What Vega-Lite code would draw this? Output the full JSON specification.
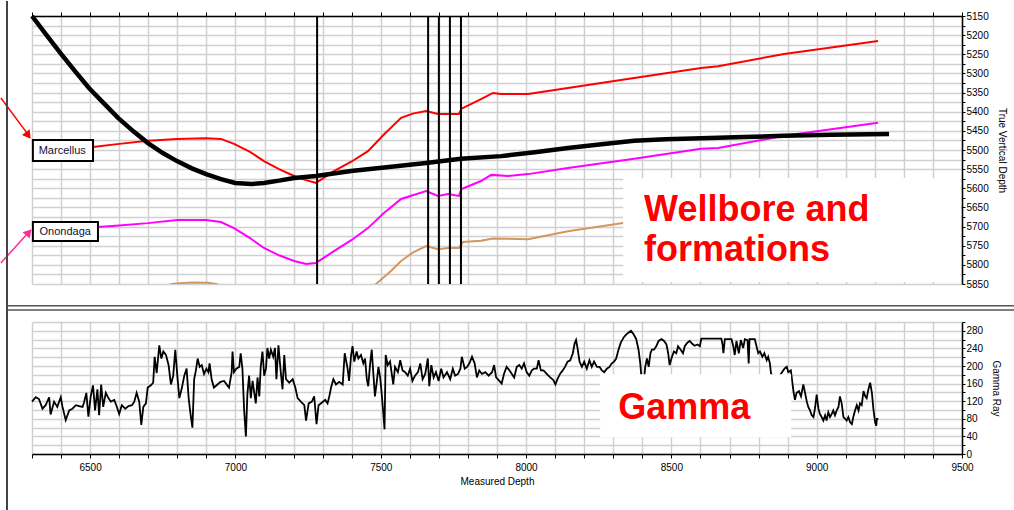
{
  "$schema": "https://vega.github.io/schema/vega-lite/v6.json",
  "autosize": {"type": "pad"},
  "padding": 0,
  "background": "white",
  "config": {
    "font": "Liberation Sans",
    "view": {"stroke": null},
    "axis": {
      "gridColor": "#d0d0d0",
      "gridWidth": 1.5,
      "domainColor": "black",
      "domainWidth": 1.5,
      "tickColor": "black",
      "tickSize": 4,
      "labelColor": "black",
      "titleColor": "black",
      "labelFontSize": 10,
      "titleFontSize": 10,
      "titleFontWeight": "normal",
      "labelOverlap": false,
      "labelFlush": false
    }
  },
  "datasets": {
    "wellbore": [
      {"md": 6300, "tvd": 5150}, {"md": 6350, "tvd": 5200}, {"md": 6400, "tvd": 5249}, {"md": 6450, "tvd": 5296},
      {"md": 6496, "tvd": 5338}, {"md": 6550, "tvd": 5380}, {"md": 6596, "tvd": 5416}, {"md": 6650, "tvd": 5452},
      {"md": 6699, "tvd": 5482}, {"md": 6750, "tvd": 5508}, {"md": 6799, "tvd": 5529}, {"md": 6850, "tvd": 5548},
      {"md": 6899, "tvd": 5563}, {"md": 6950, "tvd": 5576}, {"md": 6999, "tvd": 5586}, {"md": 7054, "tvd": 5589},
      {"md": 7098, "tvd": 5586}, {"md": 7150, "tvd": 5580}, {"md": 7202, "tvd": 5573}, {"md": 7277, "tvd": 5568},
      {"md": 7398, "tvd": 5555}, {"md": 7520, "tvd": 5545}, {"md": 7656, "tvd": 5534}, {"md": 7776, "tvd": 5523},
      {"md": 7914, "tvd": 5516}, {"md": 8030, "tvd": 5506}, {"md": 8144, "tvd": 5495}, {"md": 8260, "tvd": 5485},
      {"md": 8372, "tvd": 5476}, {"md": 8480, "tvd": 5472}, {"md": 8602, "tvd": 5469}, {"md": 8750, "tvd": 5466},
      {"md": 8888, "tvd": 5463}, {"md": 9050, "tvd": 5460}, {"md": 9249, "tvd": 5458}
    ],
    "formations": [
      {"name": "Marcellus", "md": 6300, "tvd": 5503}, {"name": "Marcellus", "md": 6400, "tvd": 5497},
      {"name": "Marcellus", "md": 6510, "tvd": 5492}, {"name": "Marcellus", "md": 6600, "tvd": 5484},
      {"name": "Marcellus", "md": 6699, "tvd": 5476}, {"name": "Marcellus", "md": 6799, "tvd": 5471},
      {"name": "Marcellus", "md": 6899, "tvd": 5469}, {"name": "Marcellus", "md": 6950, "tvd": 5471},
      {"name": "Marcellus", "md": 6995, "tvd": 5484}, {"name": "Marcellus", "md": 7050, "tvd": 5505},
      {"name": "Marcellus", "md": 7098, "tvd": 5529}, {"name": "Marcellus", "md": 7150, "tvd": 5550},
      {"name": "Marcellus", "md": 7202, "tvd": 5568}, {"name": "Marcellus", "md": 7240, "tvd": 5578},
      {"name": "Marcellus", "md": 7277, "tvd": 5586}, {"name": "Marcellus", "md": 7300, "tvd": 5575},
      {"name": "Marcellus", "md": 7339, "tvd": 5555}, {"name": "Marcellus", "md": 7400, "tvd": 5530},
      {"name": "Marcellus", "md": 7456, "tvd": 5503}, {"name": "Marcellus", "md": 7510, "tvd": 5460},
      {"name": "Marcellus", "md": 7570, "tvd": 5416}, {"name": "Marcellus", "md": 7610, "tvd": 5405},
      {"name": "Marcellus", "md": 7656, "tvd": 5398}, {"name": "Marcellus", "md": 7697, "tvd": 5406},
      {"name": "Marcellus", "md": 7732, "tvd": 5406}, {"name": "Marcellus", "md": 7769, "tvd": 5406},
      {"name": "Marcellus", "md": 7778, "tvd": 5392}, {"name": "Marcellus", "md": 7845, "tvd": 5367},
      {"name": "Marcellus", "md": 7886, "tvd": 5351}, {"name": "Marcellus", "md": 7914, "tvd": 5354},
      {"name": "Marcellus", "md": 8007, "tvd": 5354}, {"name": "Marcellus", "md": 8144, "tvd": 5338},
      {"name": "Marcellus", "md": 8372, "tvd": 5312}, {"name": "Marcellus", "md": 8602, "tvd": 5286},
      {"name": "Marcellus", "md": 8661, "tvd": 5281}, {"name": "Marcellus", "md": 8888, "tvd": 5249},
      {"name": "Marcellus", "md": 9050, "tvd": 5232}, {"name": "Marcellus", "md": 9211, "tvd": 5215},
      {"name": "Onondaga", "md": 6300, "tvd": 5706}, {"name": "Onondaga", "md": 6400, "tvd": 5704},
      {"name": "Onondaga", "md": 6527, "tvd": 5701}, {"name": "Onondaga", "md": 6600, "tvd": 5697},
      {"name": "Onondaga", "md": 6699, "tvd": 5691}, {"name": "Onondaga", "md": 6799, "tvd": 5683},
      {"name": "Onondaga", "md": 6899, "tvd": 5683}, {"name": "Onondaga", "md": 6950, "tvd": 5688},
      {"name": "Onondaga", "md": 6995, "tvd": 5704}, {"name": "Onondaga", "md": 7050, "tvd": 5730},
      {"name": "Onondaga", "md": 7098, "tvd": 5756}, {"name": "Onondaga", "md": 7150, "tvd": 5775},
      {"name": "Onondaga", "md": 7202, "tvd": 5790}, {"name": "Onondaga", "md": 7243, "tvd": 5798},
      {"name": "Onondaga", "md": 7277, "tvd": 5795}, {"name": "Onondaga", "md": 7339, "tvd": 5764},
      {"name": "Onondaga", "md": 7400, "tvd": 5735}, {"name": "Onondaga", "md": 7456, "tvd": 5704},
      {"name": "Onondaga", "md": 7510, "tvd": 5665}, {"name": "Onondaga", "md": 7570, "tvd": 5628},
      {"name": "Onondaga", "md": 7656, "tvd": 5607}, {"name": "Onondaga", "md": 7697, "tvd": 5620},
      {"name": "Onondaga", "md": 7732, "tvd": 5615}, {"name": "Onondaga", "md": 7769, "tvd": 5620},
      {"name": "Onondaga", "md": 7778, "tvd": 5602}, {"name": "Onondaga", "md": 7845, "tvd": 5581},
      {"name": "Onondaga", "md": 7880, "tvd": 5565}, {"name": "Onondaga", "md": 7938, "tvd": 5568},
      {"name": "Onondaga", "md": 8007, "tvd": 5563}, {"name": "Onondaga", "md": 8144, "tvd": 5547},
      {"name": "Onondaga", "md": 8372, "tvd": 5523}, {"name": "Onondaga", "md": 8602, "tvd": 5497},
      {"name": "Onondaga", "md": 8661, "tvd": 5495}, {"name": "Onondaga", "md": 8888, "tvd": 5463},
      {"name": "Onondaga", "md": 9050, "tvd": 5446}, {"name": "Onondaga", "md": 9211, "tvd": 5429},
      {"name": "Lower", "md": 6700, "tvd": 5870}, {"name": "Lower", "md": 6760, "tvd": 5855},
      {"name": "Lower", "md": 6785, "tvd": 5849}, {"name": "Lower", "md": 6850, "tvd": 5846},
      {"name": "Lower", "md": 6906, "tvd": 5847}, {"name": "Lower", "md": 6933, "tvd": 5850},
      {"name": "Lower", "md": 6980, "tvd": 5862}, {"name": "Lower", "md": 7050, "tvd": 5890},
      {"name": "Lower", "md": 7150, "tvd": 5935}, {"name": "Lower", "md": 7243, "tvd": 5958},
      {"name": "Lower", "md": 7300, "tvd": 5950}, {"name": "Lower", "md": 7400, "tvd": 5900},
      {"name": "Lower", "md": 7460, "tvd": 5862}, {"name": "Lower", "md": 7484, "tvd": 5850},
      {"name": "Lower", "md": 7535, "tvd": 5816}, {"name": "Lower", "md": 7570, "tvd": 5790},
      {"name": "Lower", "md": 7610, "tvd": 5768}, {"name": "Lower", "md": 7656, "tvd": 5751},
      {"name": "Lower", "md": 7697, "tvd": 5759}, {"name": "Lower", "md": 7732, "tvd": 5756},
      {"name": "Lower", "md": 7769, "tvd": 5756}, {"name": "Lower", "md": 7783, "tvd": 5740},
      {"name": "Lower", "md": 7845, "tvd": 5737}, {"name": "Lower", "md": 7886, "tvd": 5731},
      {"name": "Lower", "md": 8007, "tvd": 5733}, {"name": "Lower", "md": 8144, "tvd": 5712},
      {"name": "Lower", "md": 8340, "tvd": 5690}
    ],
    "markers": [{"md": 7281}, {"md": 7663}, {"md": 7700}, {"md": 7738}, {"md": 7776}],
    "gamma": [
      {"md": 6300, "gr": 119}, {"md": 6313, "gr": 129}, {"md": 6324, "gr": 125}, {"md": 6336, "gr": 103},
      {"md": 6347, "gr": 111}, {"md": 6359, "gr": 129}, {"md": 6364, "gr": 90}, {"md": 6376, "gr": 119},
      {"md": 6387, "gr": 107}, {"md": 6399, "gr": 129}, {"md": 6405, "gr": 107}, {"md": 6416, "gr": 77},
      {"md": 6428, "gr": 99}, {"md": 6439, "gr": 103}, {"md": 6451, "gr": 111}, {"md": 6462, "gr": 109},
      {"md": 6474, "gr": 107}, {"md": 6479, "gr": 117}, {"md": 6487, "gr": 139}, {"md": 6494, "gr": 85},
      {"md": 6502, "gr": 131}, {"md": 6510, "gr": 156}, {"md": 6517, "gr": 99}, {"md": 6525, "gr": 147},
      {"md": 6531, "gr": 88}, {"md": 6538, "gr": 158}, {"md": 6545, "gr": 107}, {"md": 6554, "gr": 139},
      {"md": 6563, "gr": 127}, {"md": 6571, "gr": 119}, {"md": 6583, "gr": 123}, {"md": 6591, "gr": 109},
      {"md": 6600, "gr": 91}, {"md": 6609, "gr": 111}, {"md": 6621, "gr": 103}, {"md": 6632, "gr": 109},
      {"md": 6644, "gr": 111}, {"md": 6652, "gr": 119}, {"md": 6660, "gr": 139}, {"md": 6669, "gr": 119},
      {"md": 6676, "gr": 66}, {"md": 6683, "gr": 107}, {"md": 6692, "gr": 115}, {"md": 6698, "gr": 151},
      {"md": 6709, "gr": 156}, {"md": 6717, "gr": 162}, {"md": 6722, "gr": 221}, {"md": 6729, "gr": 184},
      {"md": 6738, "gr": 247}, {"md": 6745, "gr": 217}, {"md": 6752, "gr": 233}, {"md": 6761, "gr": 225},
      {"md": 6770, "gr": 202}, {"md": 6778, "gr": 158}, {"md": 6786, "gr": 178}, {"md": 6793, "gr": 237},
      {"md": 6801, "gr": 170}, {"md": 6807, "gr": 127}, {"md": 6816, "gr": 151}, {"md": 6824, "gr": 178},
      {"md": 6832, "gr": 194}, {"md": 6839, "gr": 127}, {"md": 6846, "gr": 88}, {"md": 6852, "gr": 60},
      {"md": 6858, "gr": 170}, {"md": 6864, "gr": 190}, {"md": 6870, "gr": 217}, {"md": 6877, "gr": 198},
      {"md": 6884, "gr": 202}, {"md": 6892, "gr": 182}, {"md": 6900, "gr": 194}, {"md": 6907, "gr": 186},
      {"md": 6911, "gr": 206}, {"md": 6918, "gr": 170}, {"md": 6926, "gr": 151}, {"md": 6938, "gr": 158},
      {"md": 6949, "gr": 164}, {"md": 6961, "gr": 166}, {"md": 6972, "gr": 156}, {"md": 6978, "gr": 151},
      {"md": 6987, "gr": 186}, {"md": 6990, "gr": 233}, {"md": 6995, "gr": 186}, {"md": 7003, "gr": 194},
      {"md": 7013, "gr": 198}, {"md": 7018, "gr": 229}, {"md": 7024, "gr": 194}, {"md": 7030, "gr": 99},
      {"md": 7036, "gr": 40}, {"md": 7041, "gr": 135}, {"md": 7047, "gr": 178}, {"md": 7053, "gr": 127},
      {"md": 7059, "gr": 166}, {"md": 7064, "gr": 143}, {"md": 7070, "gr": 115}, {"md": 7076, "gr": 174},
      {"md": 7082, "gr": 131}, {"md": 7087, "gr": 198}, {"md": 7093, "gr": 233}, {"md": 7099, "gr": 178},
      {"md": 7105, "gr": 194}, {"md": 7110, "gr": 241}, {"md": 7116, "gr": 217}, {"md": 7122, "gr": 237},
      {"md": 7130, "gr": 221}, {"md": 7136, "gr": 241}, {"md": 7141, "gr": 170}, {"md": 7148, "gr": 247},
      {"md": 7156, "gr": 186}, {"md": 7162, "gr": 147}, {"md": 7168, "gr": 225}, {"md": 7174, "gr": 170},
      {"md": 7185, "gr": 162}, {"md": 7197, "gr": 170}, {"md": 7206, "gr": 151}, {"md": 7214, "gr": 127},
      {"md": 7225, "gr": 119}, {"md": 7237, "gr": 111}, {"md": 7243, "gr": 76}, {"md": 7252, "gr": 115},
      {"md": 7263, "gr": 119}, {"md": 7271, "gr": 131}, {"md": 7279, "gr": 68}, {"md": 7286, "gr": 111},
      {"md": 7298, "gr": 117}, {"md": 7309, "gr": 123}, {"md": 7317, "gr": 115}, {"md": 7323, "gr": 131},
      {"md": 7329, "gr": 151}, {"md": 7337, "gr": 170}, {"md": 7346, "gr": 158}, {"md": 7357, "gr": 164},
      {"md": 7369, "gr": 158}, {"md": 7376, "gr": 229}, {"md": 7386, "gr": 194}, {"md": 7391, "gr": 166},
      {"md": 7398, "gr": 225}, {"md": 7403, "gr": 245}, {"md": 7409, "gr": 210}, {"md": 7417, "gr": 233},
      {"md": 7423, "gr": 217}, {"md": 7432, "gr": 225}, {"md": 7440, "gr": 206}, {"md": 7446, "gr": 217},
      {"md": 7452, "gr": 170}, {"md": 7457, "gr": 154}, {"md": 7463, "gr": 202}, {"md": 7469, "gr": 237},
      {"md": 7475, "gr": 178}, {"md": 7480, "gr": 131}, {"md": 7486, "gr": 162}, {"md": 7492, "gr": 198},
      {"md": 7498, "gr": 174}, {"md": 7503, "gr": 139}, {"md": 7509, "gr": 91}, {"md": 7513, "gr": 56},
      {"md": 7517, "gr": 225}, {"md": 7524, "gr": 202}, {"md": 7532, "gr": 210}, {"md": 7537, "gr": 186},
      {"md": 7543, "gr": 158}, {"md": 7549, "gr": 198}, {"md": 7559, "gr": 186}, {"md": 7567, "gr": 213},
      {"md": 7575, "gr": 190}, {"md": 7584, "gr": 186}, {"md": 7593, "gr": 178}, {"md": 7601, "gr": 194},
      {"md": 7609, "gr": 166}, {"md": 7618, "gr": 178}, {"md": 7628, "gr": 186}, {"md": 7636, "gr": 206},
      {"md": 7644, "gr": 170}, {"md": 7653, "gr": 182}, {"md": 7662, "gr": 217}, {"md": 7667, "gr": 154},
      {"md": 7674, "gr": 202}, {"md": 7682, "gr": 174}, {"md": 7690, "gr": 186}, {"md": 7699, "gr": 166},
      {"md": 7708, "gr": 194}, {"md": 7716, "gr": 174}, {"md": 7728, "gr": 186}, {"md": 7739, "gr": 170},
      {"md": 7748, "gr": 194}, {"md": 7756, "gr": 178}, {"md": 7766, "gr": 182}, {"md": 7774, "gr": 194},
      {"md": 7779, "gr": 221}, {"md": 7789, "gr": 194}, {"md": 7797, "gr": 198}, {"md": 7805, "gr": 206},
      {"md": 7814, "gr": 221}, {"md": 7823, "gr": 206}, {"md": 7831, "gr": 174}, {"md": 7839, "gr": 190},
      {"md": 7848, "gr": 182}, {"md": 7860, "gr": 186}, {"md": 7871, "gr": 178}, {"md": 7883, "gr": 186},
      {"md": 7890, "gr": 202}, {"md": 7897, "gr": 174}, {"md": 7908, "gr": 166}, {"md": 7916, "gr": 160},
      {"md": 7924, "gr": 182}, {"md": 7933, "gr": 198}, {"md": 7943, "gr": 190}, {"md": 7951, "gr": 182},
      {"md": 7959, "gr": 174}, {"md": 7968, "gr": 198}, {"md": 7977, "gr": 202}, {"md": 7985, "gr": 194},
      {"md": 7993, "gr": 206}, {"md": 8002, "gr": 186}, {"md": 8011, "gr": 178}, {"md": 8020, "gr": 190},
      {"md": 8028, "gr": 194}, {"md": 8037, "gr": 194}, {"md": 8043, "gr": 213}, {"md": 8051, "gr": 190},
      {"md": 8060, "gr": 190}, {"md": 8071, "gr": 182}, {"md": 8083, "gr": 174}, {"md": 8094, "gr": 168},
      {"md": 8101, "gr": 158}, {"md": 8108, "gr": 170}, {"md": 8117, "gr": 182}, {"md": 8126, "gr": 190},
      {"md": 8134, "gr": 198}, {"md": 8143, "gr": 210}, {"md": 8152, "gr": 213}, {"md": 8161, "gr": 229},
      {"md": 8167, "gr": 251}, {"md": 8172, "gr": 259}, {"md": 8177, "gr": 241}, {"md": 8184, "gr": 210},
      {"md": 8192, "gr": 198}, {"md": 8200, "gr": 210}, {"md": 8209, "gr": 194}, {"md": 8218, "gr": 213},
      {"md": 8226, "gr": 198}, {"md": 8234, "gr": 210}, {"md": 8244, "gr": 198}, {"md": 8253, "gr": 198},
      {"md": 8261, "gr": 190}, {"md": 8269, "gr": 186}, {"md": 8278, "gr": 194}, {"md": 8287, "gr": 198},
      {"md": 8295, "gr": 206}, {"md": 8303, "gr": 210}, {"md": 8310, "gr": 217}, {"md": 8318, "gr": 237},
      {"md": 8326, "gr": 253}, {"md": 8336, "gr": 265}, {"md": 8345, "gr": 272}, {"md": 8353, "gr": 276},
      {"md": 8361, "gr": 280}, {"md": 8370, "gr": 272}, {"md": 8379, "gr": 261}, {"md": 8387, "gr": 237},
      {"md": 8393, "gr": 206}, {"md": 8397, "gr": 174}, {"md": 8403, "gr": 150}, {"md": 8410, "gr": 198},
      {"md": 8416, "gr": 217}, {"md": 8422, "gr": 198}, {"md": 8428, "gr": 229}, {"md": 8433, "gr": 237},
      {"md": 8440, "gr": 237}, {"md": 8448, "gr": 245}, {"md": 8456, "gr": 257}, {"md": 8466, "gr": 261},
      {"md": 8475, "gr": 257}, {"md": 8483, "gr": 249}, {"md": 8489, "gr": 229}, {"md": 8494, "gr": 202},
      {"md": 8502, "gr": 221}, {"md": 8509, "gr": 233}, {"md": 8517, "gr": 229}, {"md": 8523, "gr": 245},
      {"md": 8532, "gr": 237}, {"md": 8540, "gr": 229}, {"md": 8546, "gr": 245}, {"md": 8555, "gr": 253},
      {"md": 8563, "gr": 257}, {"md": 8571, "gr": 251}, {"md": 8580, "gr": 246}, {"md": 8590, "gr": 249},
      {"md": 8598, "gr": 245}, {"md": 8603, "gr": 262}, {"md": 8626, "gr": 262}, {"md": 8649, "gr": 262},
      {"md": 8672, "gr": 262}, {"md": 8676, "gr": 249}, {"md": 8679, "gr": 229}, {"md": 8684, "gr": 261},
      {"md": 8707, "gr": 261}, {"md": 8713, "gr": 245}, {"md": 8718, "gr": 225}, {"md": 8724, "gr": 257},
      {"md": 8732, "gr": 229}, {"md": 8739, "gr": 259}, {"md": 8747, "gr": 241}, {"md": 8753, "gr": 261},
      {"md": 8762, "gr": 259}, {"md": 8766, "gr": 206}, {"md": 8769, "gr": 261}, {"md": 8787, "gr": 261},
      {"md": 8793, "gr": 245}, {"md": 8799, "gr": 229}, {"md": 8805, "gr": 233}, {"md": 8813, "gr": 221},
      {"md": 8820, "gr": 229}, {"md": 8828, "gr": 213}, {"md": 8833, "gr": 221}, {"md": 8839, "gr": 206},
      {"md": 8843, "gr": 182}, {"md": 8860, "gr": 170}, {"md": 8875, "gr": 180}, {"md": 8889, "gr": 194},
      {"md": 8897, "gr": 198}, {"md": 8902, "gr": 186}, {"md": 8911, "gr": 190}, {"md": 8920, "gr": 143},
      {"md": 8925, "gr": 123}, {"md": 8931, "gr": 139}, {"md": 8939, "gr": 143}, {"md": 8946, "gr": 131},
      {"md": 8954, "gr": 158}, {"md": 8960, "gr": 139}, {"md": 8966, "gr": 119}, {"md": 8971, "gr": 107},
      {"md": 8977, "gr": 99}, {"md": 8983, "gr": 88}, {"md": 8989, "gr": 84}, {"md": 8994, "gr": 103},
      {"md": 9000, "gr": 135}, {"md": 9006, "gr": 103}, {"md": 9011, "gr": 91}, {"md": 9017, "gr": 84},
      {"md": 9023, "gr": 76}, {"md": 9029, "gr": 88}, {"md": 9034, "gr": 76}, {"md": 9040, "gr": 95},
      {"md": 9046, "gr": 84}, {"md": 9052, "gr": 91}, {"md": 9057, "gr": 99}, {"md": 9063, "gr": 88},
      {"md": 9069, "gr": 99}, {"md": 9075, "gr": 107}, {"md": 9080, "gr": 131}, {"md": 9086, "gr": 115},
      {"md": 9092, "gr": 84}, {"md": 9098, "gr": 80}, {"md": 9103, "gr": 76}, {"md": 9109, "gr": 84},
      {"md": 9115, "gr": 72}, {"md": 9121, "gr": 68}, {"md": 9126, "gr": 84}, {"md": 9132, "gr": 99},
      {"md": 9138, "gr": 111}, {"md": 9144, "gr": 99}, {"md": 9149, "gr": 115}, {"md": 9155, "gr": 111},
      {"md": 9161, "gr": 143}, {"md": 9167, "gr": 131}, {"md": 9172, "gr": 127}, {"md": 9178, "gr": 147},
      {"md": 9184, "gr": 162}, {"md": 9190, "gr": 139}, {"md": 9195, "gr": 103}, {"md": 9201, "gr": 72},
      {"md": 9205, "gr": 64}, {"md": 9207, "gr": 80}, {"md": 9212, "gr": 80}
    ]
  },
  "bounds": "flush",
  "spacing": 38,
  "resolve": {"scale": {"x": "independent", "y": "independent"}},
  "vconcat": [
    {
      "width": 930,
      "height": 268,
      "resolve": {"axis": {"x": "independent", "y": "independent"}},
      "layer": [
        {
          "data": {"name": "formations"},
          "mark": {"type": "line", "clip": true},
          "encoding": {
            "x": {
              "field": "md", "type": "quantitative",
              "scale": {"domain": [6300, 9500], "nice": false, "zero": false},
              "axis": {
                "orient": "top", "title": null, "labels": false, "grid": true,
                "values": [6300,6400,6500,6600,6700,6800,6900,7000,7100,7200,7300,7400,7500,7600,7700,7800,7900,8000,8100,8200,8300,8400,8500,8600,8700,8800,8900,9000,9100,9200,9300,9400,9500]
              }
            },
            "y": {
              "field": "tvd", "type": "quantitative",
              "scale": {"domain": [5150, 5850], "reverse": true, "nice": false, "zero": false},
              "axis": {
                "orient": "right", "title": "True Vertical Depth", "grid": true, "format": "d",
                "tickSize": 3, "labelPadding": 1, "titlePadding": 8,
                "values": [5150,5175,5200,5225,5250,5275,5300,5325,5350,5375,5400,5425,5450,5475,5500,5525,5550,5575,5600,5625,5650,5675,5700,5725,5750,5775,5800,5825,5850],
                "labelExpr": "datum.value % 50 === 0 ? datum.label : ''"
              }
            },
            "color": {
              "field": "name", "type": "nominal", "legend": null,
              "scale": {"domain": ["Marcellus", "Onondaga", "Lower"], "range": ["#ff0000", "#ff00ff", "#d4965e"]}
            },
            "strokeWidth": {
              "field": "name", "type": "nominal", "legend": null,
              "scale": {"domain": ["Marcellus", "Onondaga", "Lower"], "range": [2, 2, 1]}
            }
          }
        },
        {
          "data": {"name": "wellbore"},
          "mark": {"type": "line", "color": "black", "strokeWidth": 4.5},
          "encoding": {
            "x": {"field": "md", "type": "quantitative", "axis": null},
            "y": {"field": "tvd", "type": "quantitative", "axis": null}
          }
        },
        {
          "data": {"name": "markers"},
          "mark": {"type": "rule", "color": "black", "strokeWidth": 2},
          "encoding": {
            "x": {"field": "md", "type": "quantitative", "axis": null}
          }
        },
        {
          "data": {"values": [{}]},
          "mark": {"type": "rect", "fill": "white", "stroke": "black", "strokeWidth": 2},
          "encoding": {
            "x": {"datum": 6303, "type": "quantitative", "axis": null},
            "x2": {"datum": 6510},
            "y": {"datum": 5474, "type": "quantitative", "axis": null},
            "y2": {"datum": 5529}
          }
        },
        {
          "data": {"values": [{}]},
          "mark": {"type": "rect", "fill": "white", "stroke": "black", "strokeWidth": 2},
          "encoding": {
            "x": {"datum": 6303, "type": "quantitative", "axis": null},
            "x2": {"datum": 6527},
            "y": {"datum": 5688, "type": "quantitative", "axis": null},
            "y2": {"datum": 5738}
          }
        },
        {
          "data": {"values": [{}]},
          "mark": {"type": "text", "align": "left", "baseline": "middle", "fontSize": 11, "color": "#111133"},
          "encoding": {
            "x": {"datum": 6323, "type": "quantitative", "axis": null},
            "y": {"datum": 5502, "type": "quantitative", "axis": null},
            "text": {"value": "Marcellus"}
          }
        },
        {
          "data": {"values": [{}]},
          "mark": {"type": "text", "align": "left", "baseline": "middle", "fontSize": 11, "color": "#111133"},
          "encoding": {
            "x": {"datum": 6326, "type": "quantitative", "axis": null},
            "y": {"datum": 5713, "type": "quantitative", "axis": null},
            "text": {"value": "Onondaga"}
          }
        },
        {
          "data": {"values": [{}]},
          "mark": {"type": "rule", "color": "#ff0000", "strokeWidth": 1.5},
          "encoding": {
            "x": {"datum": 6193, "type": "quantitative", "axis": null},
            "x2": {"datum": 6283},
            "y": {"datum": 5364, "type": "quantitative", "axis": null},
            "y2": {"datum": 5456}
          }
        },
        {
          "data": {"values": [{}]},
          "mark": {"type": "point", "shape": "triangle-up", "filled": true, "color": "#ff0000", "opacity": 1, "size": 90, "angle": 144},
          "encoding": {
            "x": {"datum": 6287, "type": "quantitative", "axis": null},
            "y": {"datum": 5462, "type": "quantitative", "axis": null}
          }
        },
        {
          "data": {"values": [{}]},
          "mark": {"type": "rule", "color": "#ff2d95", "strokeWidth": 1.5},
          "encoding": {
            "x": {"datum": 6193, "type": "quantitative", "axis": null},
            "x2": {"datum": 6280},
            "y": {"datum": 5795, "type": "quantitative", "axis": null},
            "y2": {"datum": 5722}
          }
        },
        {
          "data": {"values": [{}]},
          "mark": {"type": "point", "shape": "triangle-up", "filled": true, "color": "#ff2d95", "opacity": 1, "size": 90, "angle": 42},
          "encoding": {
            "x": {"datum": 6289, "type": "quantitative", "axis": null},
            "y": {"datum": 5715, "type": "quantitative", "axis": null}
          }
        },
        {
          "data": {"values": [{}]},
          "mark": {"type": "rect", "fill": "white"},
          "encoding": {
            "x": {"datum": 8334, "type": "quantitative", "axis": null},
            "x2": {"datum": 9496},
            "y": {"datum": 5573, "type": "quantitative", "axis": null},
            "y2": {"datum": 5845}
          }
        },
        {
          "data": {"values": [{}]},
          "mark": {"type": "text", "align": "left", "baseline": "alphabetic", "fontSize": 36, "fontWeight": "bold", "color": "#ff0000", "lineHeight": 40},
          "encoding": {
            "x": {"datum": 8406, "type": "quantitative", "axis": null},
            "y": {"datum": 5685, "type": "quantitative", "axis": null},
            "text": {"value": ["Wellbore and", "formations"]}
          }
        },
        {
          "data": {"values": [{}]},
          "mark": {"type": "rule", "color": "#444444", "strokeWidth": 2},
          "encoding": {
            "x": {"datum": 6214, "type": "quantitative", "axis": null},
            "y": {"datum": 5111, "type": "quantitative", "axis": null},
            "y2": {"datum": 5918}
          }
        },
        {
          "data": {"values": [{}]},
          "mark": {"type": "rule", "color": "#555555", "strokeWidth": 1.5},
          "encoding": {
            "x": {"datum": 6214, "type": "quantitative", "axis": null},
            "x2": {"datum": 9682},
            "y": {"datum": 5907, "type": "quantitative", "axis": null}
          }
        },
        {
          "data": {"values": [{}]},
          "mark": {"type": "rule", "color": "#555555", "strokeWidth": 1.5},
          "encoding": {
            "x": {"datum": 6214, "type": "quantitative", "axis": null},
            "x2": {"datum": 9682},
            "y": {"datum": 5918, "type": "quantitative", "axis": null}
          }
        }
      ]
    },
    {
      "width": 930,
      "height": 132,
      "resolve": {"axis": {"x": "independent", "y": "independent"}},
      "layer": [
        {
          "data": {"name": "gamma"},
          "mark": {"type": "line", "color": "black", "strokeWidth": 1.8},
          "encoding": {
            "x": {
              "field": "md", "type": "quantitative",
              "scale": {"domain": [6300, 9500], "nice": false, "zero": false},
              "axis": {
                "orient": "bottom", "title": "Measured Depth", "grid": true, "format": "d",
                "labelPadding": 4, "titlePadding": 4,
                "values": [6300,6400,6500,6600,6700,6800,6900,7000,7100,7200,7300,7400,7500,7600,7700,7800,7900,8000,8100,8200,8300,8400,8500,8600,8700,8800,8900,9000,9100,9200,9300,9400,9500],
                "labelExpr": "datum.value % 500 === 0 ? datum.label : ''"
              }
            },
            "y": {
              "field": "gr", "type": "quantitative",
              "scale": {"domain": [0, 300], "nice": false},
              "axis": {
                "orient": "right", "title": "Gamma Ray", "grid": true, "format": "d",
                "tickSize": 3, "labelPadding": 1, "titlePadding": 8,
                "values": [0,20,40,60,80,100,120,140,160,180,200,220,240,260,280,300],
                "labelExpr": "datum.value % 40 === 0 ? datum.label : ''"
              }
            }
          }
        },
        {
          "data": {"values": [{}]},
          "mark": {"type": "rect", "fill": "white"},
          "encoding": {
            "x": {"datum": 8255, "type": "quantitative", "axis": null},
            "x2": {"datum": 8912},
            "y": {"datum": 38, "type": "quantitative", "axis": null},
            "y2": {"datum": 181}
          }
        },
        {
          "data": {"values": [{}]},
          "mark": {"type": "text", "align": "left", "baseline": "alphabetic", "fontSize": 36, "fontWeight": "bold", "color": "#ff0000"},
          "encoding": {
            "x": {"datum": 8317, "type": "quantitative", "axis": null},
            "y": {"datum": 79, "type": "quantitative", "axis": null},
            "text": {"value": "Gamma"}
          }
        },
        {
          "data": {"values": [{}]},
          "mark": {"type": "rule", "color": "#444444", "strokeWidth": 2},
          "encoding": {
            "x": {"datum": 6214, "type": "quantitative", "axis": null},
            "y": {"datum": 333, "type": "quantitative", "axis": null},
            "y2": {"datum": -131}
          }
        }
      ]
    }
  ]
}
